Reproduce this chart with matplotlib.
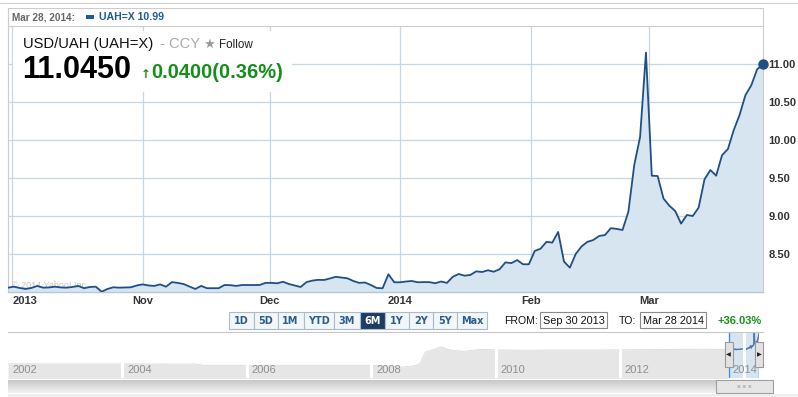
import numpy as np
import pandas as pd
import matplotlib
matplotlib.use("Agg")
import matplotlib.pyplot as plt
import matplotlib.dates as mdates
from matplotlib.patches import Rectangle
from matplotlib.lines import Line2D

plt.rcParams['font.family'] = ['Liberation Sans', 'DejaVu Sans']

# ---------------- data ----------------
start_date = '2013-09-30'
end_date = '2014-03-28'
rate = [8.057, 8.070, 8.053, 8.040, 8.053, 8.080, 8.057, 8.060, 8.070, 8.060,
        8.057, 8.066, 8.080, 8.050, 8.066, 8.070, 8.004, 8.040, 8.062, 8.057,
        8.060, 8.062, 8.086, 8.100, 8.086, 8.080, 8.100, 8.070, 8.130, 8.120,
        8.105, 8.072, 8.040, 8.080, 8.050, 8.050, 8.050, 8.092, 8.090, 8.080,
        8.092, 8.092, 8.092, 8.092, 8.120, 8.120, 8.115, 8.135, 8.105, 8.086,
        8.066, 8.130, 8.150, 8.160, 8.158, 8.178, 8.200, 8.190, 8.180, 8.145,
        8.120, 8.125, 8.092, 8.053, 8.049, 8.233, 8.128, 8.128, 8.138, 8.145,
        8.128, 8.130, 8.130, 8.115, 8.138, 8.120, 8.200, 8.237, 8.215, 8.224,
        8.272, 8.263, 8.286, 8.267, 8.300, 8.390, 8.380, 8.420, 8.365, 8.365,
        8.540, 8.570, 8.660, 8.650, 8.790, 8.400, 8.320, 8.500, 8.600, 8.660,
        8.684, 8.737, 8.750, 8.840, 8.830, 8.816, 9.057, 9.670, 10.040, 11.150,
        9.530, 9.526, 9.230, 9.135, 9.066, 8.900, 9.013, 9.000, 9.110, 9.480,
        9.605, 9.530, 9.800, 9.880, 10.130, 10.330, 10.590, 10.720, 10.930, 10.996]

month_ticks = ['2013-10-01', '2013-11-01', '2013-12-01', '2014-01-01', '2014-02-01', '2014-03-01']
month_labels = ['2013', 'Nov', 'Dec', '2014', 'Feb', 'Mar']
y_ticks = [8.5, 9.0, 9.5, 10.0, 10.5, 11.0]
y_labels = ['8.50', '9.00', '9.50', '10.00', '10.50', '11.00']

nav_dates = ['2002-03-01', '2002-09-01', '2003-03-01', '2003-09-01', '2004-03-01', '2004-06-01',
             '2004-09-01', '2004-12-01', '2005-03-01', '2005-04-25', '2005-09-01', '2006-03-01',
             '2006-09-01', '2007-03-01', '2007-09-01', '2008-01-01', '2008-04-01', '2008-07-01',
             '2008-09-15', '2008-10-15', '2008-11-15', '2008-12-15', '2009-01-15', '2009-02-15',
             '2009-04-01', '2009-07-01', '2009-10-01', '2010-01-01', '2010-07-01', '2011-01-01',
             '2011-07-01', '2012-01-01', '2012-07-01', '2013-01-01', '2013-06-01', '2013-09-27']
nav_values = [5.33, 5.33, 5.33, 5.33, 5.33, 5.31,
              5.32, 5.30, 5.31, 5.05, 5.05, 5.05,
              5.05, 5.05, 5.05, 5.05, 4.95, 4.70,
              5.00, 5.40, 7.60, 7.90, 8.20, 8.60,
              8.00, 7.70, 8.10, 7.99, 7.92, 7.98,
              7.97, 8.00, 8.05, 8.10, 8.12, 8.05]
nav_years = ['2002', '2004', '2006', '2008', '2010', '2012', '2014']

range_buttons = ['1D', '5D', '1M', 'YTD', '3M', '6M', '1Y', '2Y', '5Y', 'Max']
selected_button = '6M'

title = 'USD/UAH (UAH=X)'
exchange = '- CCY'
follow = 'Follow'
last_price = '11.0450'
change_text = '0.0400(0.36%)'
legend_date = 'Mar 28, 2014:'
legend_value = 'UAH=X 10.99'
from_text = 'Sep 30 2013'
to_text = 'Mar 28 2014'
period_change = '+36.03%'
watermark = '\u00a9 2014 Yahoo! Inc.'

# ---------------- layout helpers ----------------
W, H = 798, 397
fig = plt.figure(figsize=(W / 100, H / 100), dpi=100)
fig.patch.set_facecolor('white')


def fx(x):
    return x / W


def fy(y):
    return 1 - y / H


def box(x0, y0, x1, y1):
    return [x0 / W, 1 - y1 / H, (x1 - x0) / W, (y1 - y0) / H]


def fig_line(x0, y0, x1, y1, color, lw=0.8, z=5):
    fig.add_artist(Line2D([fx(x0), fx(x1)], [fy(y0), fy(y1)], transform=fig.transFigure,
                          color=color, lw=lw, zorder=z))


def fig_rect(x0, y0, x1, y1, fc, ec='none', lw=0.8, z=5):
    fig.add_artist(Rectangle((fx(x0), fy(y1)), (x1 - x0) / W, (y1 - y0) / H,
                             transform=fig.transFigure, fc=fc, ec=ec, lw=lw, zorder=z))


LINE = '#1f4f86'
FILL = '#d7e5f1'
GRID = '#c6d6e3'
BORDER = '#cccccc'
GREEN = '#168f1a'

# ---------------- main chart ----------------
dates = pd.bdate_range(start_date, end_date)
xnum = np.linspace(mdates.date2num(dates[0]), mdates.date2num(dates[-1]), len(dates))

ax = fig.add_axes(box(8, 26, 763, 292))
ax.set_xlim(xnum[0], xnum[-1])
ax.set_ylim(8.0, 11.5)
ax.fill_between(xnum, rate, 8.0, color=FILL, lw=0, zorder=1)
ax.plot(xnum, rate, color=LINE, lw=1.3, zorder=3)
ax.plot(xnum[-1], rate[-1], 'o', ms=6.5, color=LINE, zorder=4, clip_on=False)

ax.set_yticks(y_ticks)
ax.set_yticklabels(y_labels)
ax.yaxis.tick_right()
ax.set_xticks(mdates.date2num(pd.to_datetime(month_ticks)))
ax.set_xticklabels(month_labels)
ax.tick_params(axis='both', length=0, labelsize=8, labelcolor='#333333')
ax.tick_params(axis='y', pad=4)
ax.tick_params(axis='x', pad=3)
for lab in ax.get_xticklabels() + ax.get_yticklabels():
    lab.set_fontweight('bold')
ax.get_xticklabels()[0].set_ha('left')
ax.grid(True, color=GRID, lw=0.9)
ax.set_axisbelow(True)
for s in ['left', 'right']:
    ax.spines[s].set_color(BORDER)
    ax.spines[s].set_linewidth(0.8)
ax.spines['top'].set_color(BORDER)
ax.spines['top'].set_linewidth(0.8)
ax.spines['bottom'].set_color('#b6c8d8')
ax.spines['bottom'].set_linewidth(1.0)
ax.text(4 / 755, 4.5 / 266, watermark, transform=ax.transAxes, fontsize=6.5,
        color='#c4c4c4', va='baseline', ha='left', zorder=2)

# legend row / frame
fig_line(0, 3, 798, 3, '#cfcfcf')
fig_line(8, 8, 763, 8, BORDER)
fig_line(8, 8, 8, 26, BORDER)
fig_line(763, 8, 763, 26, BORDER)
fig.text(fx(12), fy(20.5), legend_date, fontsize=7.2, fontweight='bold', color='#666666', va='baseline')
fig_rect(86, 15, 94, 19, '#1f5a96', z=6)
fig.text(fx(99), fy(20.5), legend_value, fontsize=7.6, fontweight='bold', color='#1f5a96', va='baseline')

# header box
fig_rect(13, 31, 292, 92, 'white', z=10)
fig.text(fx(23), fy(48), title, fontsize=10.6, color='#111111', va='baseline', zorder=11)
fig.text(fx(160), fy(48), exchange, fontsize=10.6, color='#aaaaaa', va='baseline', zorder=11)
fig.text(fx(203), fy(48), '\u2605', fontsize=9.5, color='#999999', va='baseline', zorder=11,
         family='DejaVu Sans')
fig.text(fx(219), fy(48), follow, fontsize=8.4, color='#222222', va='baseline', zorder=11)
fig.text(fx(22), fy(78.5), last_price, fontsize=22, fontweight='bold', color='#000000',
         va='baseline', zorder=11)
fig.text(fx(141), fy(78.5), '\u2191', fontsize=8.5, fontweight='bold', color=GREEN,
         va='baseline', zorder=11, family='DejaVu Sans')
fig.text(fx(151), fy(78.5), change_text, fontsize=14.5, fontweight='bold', color=GREEN,
         va='baseline', zorder=11)

# ---------------- range selector row ----------------
edges = [229, 254, 277.5, 303.5, 333.5, 360, 385, 409, 433, 457, 487]
for i, lab in enumerate(range_buttons):
    sel = lab == selected_button
    fig_rect(edges[i], 312, edges[i + 1], 329, '#1e3d64' if sel else '#f3f6f9',
             ec='#a8bccf', lw=0.8, z=6)
    fig.text(fx((edges[i] + edges[i + 1]) / 2), fy(320.5), lab, fontsize=7, fontweight='bold',
             color='white' if sel else '#2c5d8f', ha='center', va='center', zorder=7,
             family='DejaVu Sans')

fig.text(fx(504), fy(320.5), 'FROM:', fontsize=7.6, color='#111111', va='center')
fig_rect(540, 312, 607, 328, 'white', ec='#8a8a8a', lw=0.8)
fig.text(fx(543), fy(320.5), from_text, fontsize=7.8, color='#111111', va='center', zorder=7)
fig.text(fx(619), fy(320.5), 'TO:', fontsize=7.6, color='#111111', va='center')
fig_rect(640, 312, 706, 328, 'white', ec='#8a8a8a', lw=0.8)
fig.text(fx(643), fy(320.5), to_text, fontsize=7.8, color='#111111', va='center', zorder=7)
fig.text(fx(718), fy(320.5), period_change, fontsize=8, fontweight='bold', color=GREEN, va='center')

fig_line(8, 332, 763, 332, '#c8c8c8')

# ---------------- navigator ----------------
nav = fig.add_axes(box(8, 333, 759, 378))
hist_x = mdates.date2num(pd.to_datetime(nav_dates))
sel0, sel1 = xnum[0], xnum[-1]
nav.fill_between(hist_x, nav_values, 0, color='#e6e6e6', lw=0, zorder=1)
nav.plot(hist_x, nav_values, color='#dadada', lw=0.6, zorder=1.5)
nav.axvspan(sel0, sel1, color=FILL, lw=0, zorder=2)
nav.plot(mdates.date2num(dates), rate, color='#4a7ab0', lw=1.0, zorder=3)
nav.set_xlim(mdates.date2num(pd.Timestamp('2002-03-01')), sel1)
nav.set_ylim(2.64, 11.2)
xl = nav.get_xlim()
for yr in nav_years:
    d = mdates.date2num(pd.Timestamp(yr + '-01-01'))
    if xl[0] < d < xl[1]:
        nav.axvline(d, color='white', lw=2.2, zorder=4)
    if yr == nav_years[0]:
        nav.annotate(yr, xy=(xl[0], 0.167), xycoords=nav.get_xaxis_transform(), xytext=(4, 0),
                     textcoords='offset pixels', fontsize=8, color='#8f8f8f', va='center', ha='left', zorder=7)
    elif yr == nav_years[-1]:
        nav.annotate(yr, xy=(xl[1], 0.167), xycoords=nav.get_xaxis_transform(), xytext=(-2, 0),
                     textcoords='offset pixels', fontsize=8, color='#8f8f8f', va='center', ha='right', zorder=7)
    else:
        nav.annotate(yr, xy=(d, 0.167), xycoords=nav.get_xaxis_transform(), xytext=(5, 0),
                     textcoords='offset pixels', fontsize=8, color='#8f8f8f', va='center', ha='left', zorder=7)
for s in (sel0, sel1):
    nav.axvline(s, color='#3d8fe0', lw=1.0, zorder=6)
nav.axis('off')

# handles (positioned from the navigator's own scale)
for s, tri in ((sel0, '\u25c0'), (sel1, '\u25b6')):
    px = nav.transData.transform((s, 0))[0]
    fig_rect(px - 4, 342, px + 4, 367, '#e2e2e2', ec='#9a9a9a', lw=0.8, z=8)
    fig.text(fx(px), fy(354.5), tri, fontsize=4.5, color='#222222', ha='center', va='center',
             zorder=9, family='DejaVu Sans')

# scrollbar
sb = fig.add_axes(box(8, 380, 716, 393))
grad = np.linspace(0.78, 0.95, 32).reshape(-1, 1)
sb.imshow(np.repeat(grad, 2, axis=1), aspect='auto', cmap='gray', vmin=0, vmax=1,
          extent=(0, 1, 0, 1))
sb.axis('off')
fig_rect(716, 380, 773, 393, '#e6e6e6', ec='#a0a0a0', lw=0.8, z=6)
fig.text(fx(744.5), fy(386.5), '\u25aa \u25aa \u25aa', fontsize=4, color='#bdbdbd', ha='center',
         va='center', zorder=7, family='DejaVu Sans')
fig_rect(8, 394, 798, 397, '#efefef', z=4)

fig.savefig('out.png', dpi=100, facecolor='white')
